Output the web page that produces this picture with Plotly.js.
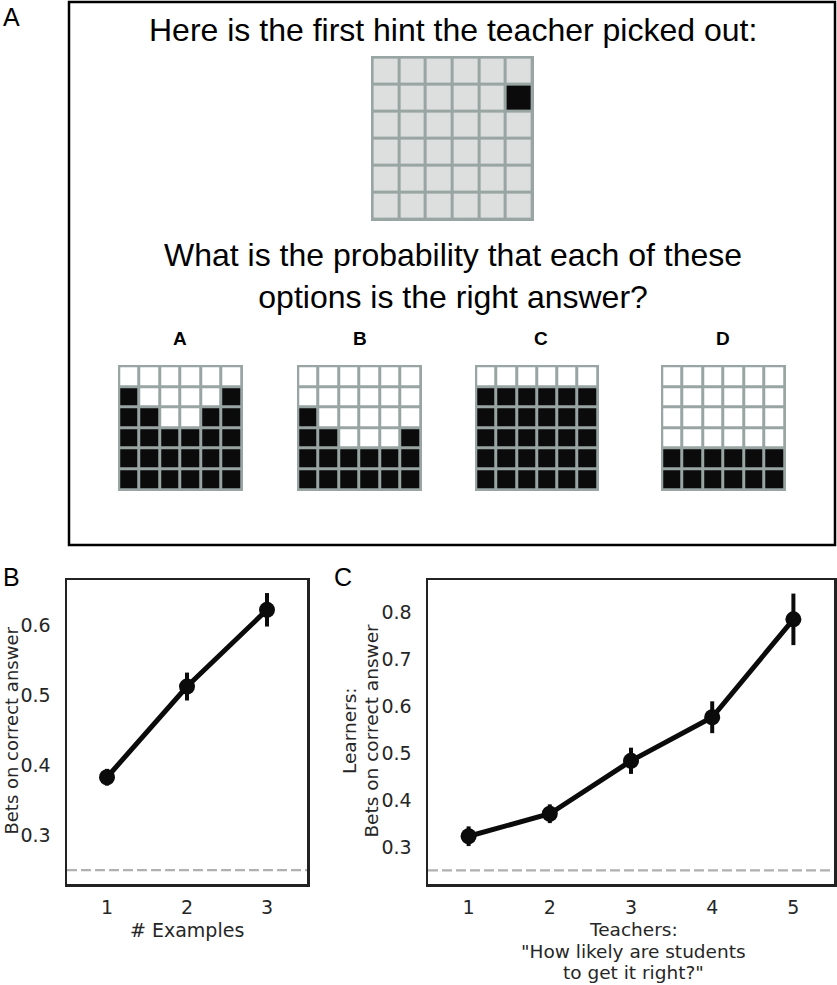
<!DOCTYPE html>
<html><head><meta charset="utf-8">
<script src="https://cdn.plot.ly/plotly-3.0.1.min.js"></script>
<style>html,body{margin:0;padding:0;background:#fff}#chart{width:837px;height:985px}</style>
</head><body><div id="chart"></div>
<script>
// ---------- Panel A data (row 0 = top row; 1 = filled cell) ----------
const hintGrid = [
  [0,0,0,0,0,0],
  [0,0,0,0,0,1],
  [0,0,0,0,0,0],
  [0,0,0,0,0,0],
  [0,0,0,0,0,0],
  [0,0,0,0,0,0]
];
const optionLabels = ['A','B','C','D'];
const optionA = [
  [0,0,0,0,0,0],
  [1,0,0,0,0,1],
  [1,1,0,0,1,1],
  [1,1,1,1,1,1],
  [1,1,1,1,1,1],
  [1,1,1,1,1,1]
];
const optionB = [
  [0,0,0,0,0,0],
  [0,0,0,0,0,0],
  [1,0,0,0,0,0],
  [1,1,0,0,0,1],
  [1,1,1,1,1,1],
  [1,1,1,1,1,1]
];
const optionC = [
  [0,0,0,0,0,0],
  [1,1,1,1,1,1],
  [1,1,1,1,1,1],
  [1,1,1,1,1,1],
  [1,1,1,1,1,1],
  [1,1,1,1,1,1]
];
const optionD = [
  [0,0,0,0,0,0],
  [0,0,0,0,0,0],
  [0,0,0,0,0,0],
  [0,0,0,0,0,0],
  [1,1,1,1,1,1],
  [1,1,1,1,1,1]
];
const gridCols = [0,1,2,3,4,5];
const gridRows = [0,1,2,3,4,5];

// ---------- Panel B data ----------
const examplesX = [1, 2, 3];
const examplesTicks = ['1','2','3'];
const examplesMean = [0.383, 0.513, 0.623];
const examplesErr = [0.012, 0.020, 0.024];

// ---------- Panel C data ----------
const teacherX = [1, 2, 3, 4, 5];
const teacherTicks = ['1','2','3','4','5'];
const teacherMean = [0.323, 0.371, 0.484, 0.577, 0.786];
const teacherErr = [0.021, 0.020, 0.028, 0.034, 0.055];

const chanceLevel = 0.25;
const yTicksB = [0.3, 0.4, 0.5, 0.6];
const yTicksC = [0.3, 0.4, 0.5, 0.6, 0.7, 0.8];

// ---------- helpers ----------
const W = 837, H = 985;
const fx = p => p / W;
const fy = p => 1 - p / H;

const HELV = 'Liberation Sans, Arial, Helvetica, sans-serif';
const DEJA = 'DejaVu Sans, sans-serif';
const TXT = '#262626';
const INK = '#0b0b0b';
const GRIDLINE = '#98a5a2';

const gridDefs = [
  {z: hintGrid, ax: 3, x0: 371, x1: 534, y0: 56, y1: 221, empty: '#dcdfde'},
  {z: optionA, ax: 4, x0: 118, x1: 243, y0: 365, y1: 491, empty: '#ffffff'},
  {z: optionB, ax: 5, x0: 297, x1: 422, y0: 365, y1: 491, empty: '#ffffff'},
  {z: optionC, ax: 6, x0: 475, x1: 599, y0: 365, y1: 491, empty: '#ffffff'},
  {z: optionD, ax: 7, x0: 661, x1: 786, y0: 365, y1: 491, empty: '#ffffff'}
];

const data = [];
const layout = {
  width: W, height: H,
  margin: {l: 0, r: 0, t: 0, b: 0},
  paper_bgcolor: '#ffffff',
  plot_bgcolor: 'rgba(0,0,0,0)',
  showlegend: false,
  shapes: [],
  annotations: []
};

gridDefs.forEach(g => {
  data.push({
    type: 'heatmap', z: g.z, x: gridCols, y: gridRows,
    xaxis: 'x' + g.ax, yaxis: 'y' + g.ax,
    zmin: 0, zmax: 1,
    colorscale: [[0, g.empty], [1, INK]],
    showscale: false, xgap: 3, ygap: 3, hoverinfo: 'skip'
  });
  layout['xaxis' + g.ax] = {domain: [fx(g.x0), fx(g.x1)], range: [-0.56, 5.56], visible: false, fixedrange: true};
  layout['yaxis' + g.ax] = {domain: [fy(g.y1), fy(g.y0)], range: [5.56, -0.56], visible: false, fixedrange: true};
  layout.shapes.push({type: 'rect', xref: 'x' + g.ax + ' domain', yref: 'y' + g.ax + ' domain',
    x0: 0, x1: 1, y0: 0, y1: 1, fillcolor: GRIDLINE, line: {width: 0}, layer: 'below'});
});

// Panel A frame
layout.shapes.push({type: 'rect', xref: 'paper', yref: 'paper',
  x0: fx(69), x1: fx(835), y0: fy(545), y1: fy(2), line: {color: '#000', width: 2.5}});

// Panel B and C traces
data.push({
  type: 'scatter', mode: 'lines+markers', x: examplesX, y: examplesMean,
  xaxis: 'x', yaxis: 'y',
  line: {color: INK, width: 5}, marker: {color: INK, size: 16},
  error_y: {type: 'data', array: examplesErr, visible: true, thickness: 4, width: 0, color: INK},
  hoverinfo: 'skip'
});
data.push({
  type: 'scatter', mode: 'lines+markers', x: teacherX, y: teacherMean,
  xaxis: 'x2', yaxis: 'y2',
  line: {color: INK, width: 5}, marker: {color: INK, size: 16},
  error_y: {type: 'data', array: teacherErr, visible: true, thickness: 4, width: 0, color: INK},
  hoverinfo: 'skip'
});

const axBase = {
  showgrid: false, zeroline: false, ticks: '', showline: true, mirror: true,
  linecolor: '#222222', linewidth: 2.5, fixedrange: true,
  tickfont: {family: DEJA, size: 19, color: TXT}
};
layout.xaxis = Object.assign({}, axBase, {domain: [fx(67), fx(307)], range: [0.5, 3.5],
  tickvals: examplesX, ticktext: examplesTicks, ticklabelstandoff: 5, anchor: 'y'});
layout.yaxis = Object.assign({}, axBase, {domain: [fy(884), fy(580)], range: [0.23, 0.6657],
  tickvals: yTicksB, tickformat: '.1f', ticklabelstandoff: 10, anchor: 'x'});
layout.xaxis2 = Object.assign({}, axBase, {domain: [fx(428), fx(834)], range: [0.5, 5.5],
  tickvals: teacherX, ticktext: teacherTicks, ticklabelstandoff: 5, anchor: 'y2'});
layout.yaxis2 = Object.assign({}, axBase, {domain: [fy(884), fy(580)], range: [0.221, 0.870],
  tickvals: yTicksC, tickformat: '.1f', ticklabelstandoff: 10, anchor: 'x2'});

// chance lines
['', '2'].forEach(s => {
  layout.shapes.push({type: 'line', xref: 'x' + s + ' domain', yref: 'y' + s,
    x0: 0, x1: 1, y0: chanceLevel, y1: chanceLevel,
    line: {color: '#b0b0b0', width: 2.2, dash: '10px,4px'}});
});

function ann(text, x, y, size, family, opts) {
  return Object.assign({text: text, xref: 'paper', yref: 'paper', x: fx(x), y: fy(y),
    xanchor: 'center', yanchor: 'middle', showarrow: false,
    font: {family: family, size: size, color: TXT}}, opts || {});
}

const blackHelv = s => ({family: HELV, size: s, color: '#000'});
const T = 18.5;
layout.annotations.push(
  ann('A', 1, 17, 25, HELV, {xanchor: 'left', font: blackHelv(25)}),
  ann('B', 1, 577, 25, HELV, {xanchor: 'left', font: blackHelv(25)}),
  ann('C', 332, 577, 25, HELV, {xanchor: 'left', font: blackHelv(25)}),
  ann('Here is the first hint the teacher picked out:', 453, 30, 32, HELV, {font: blackHelv(32)}),
  ann('What is the probability that each of these<br>options is the right answer?', 453, 276, 32, HELV,
      {font: blackHelv(32)}),
  ann('# Examples', 187, 930, 19, DEJA),
  ann('Bets on correct answer', 10.6, 731, 18, DEJA, {textangle: -90, borderpad: 0}),
  ann('Learners:', 349, 731, T, DEJA, {textangle: -90}),
  ann('Bets on correct answer', 370.6, 731, T, DEJA, {textangle: -90}),
  ann('Teachers:', 633, 929.5, T, DEJA),
  ann('"How likely are students', 633, 951.1, T, DEJA),
  ann('to get it right?"', 633, 972.7, T, DEJA)
);
const labelX = [180, 360, 541, 723];
optionLabels.forEach((lab, i) => {
  layout.annotations.push(ann('<b>' + lab + '</b>', labelX[i], 338, 19, HELV, {font: blackHelv(19)}));
});

Plotly.newPlot('chart', data, layout, {staticPlot: true, displayModeBar: false});
</script>
</body></html>
